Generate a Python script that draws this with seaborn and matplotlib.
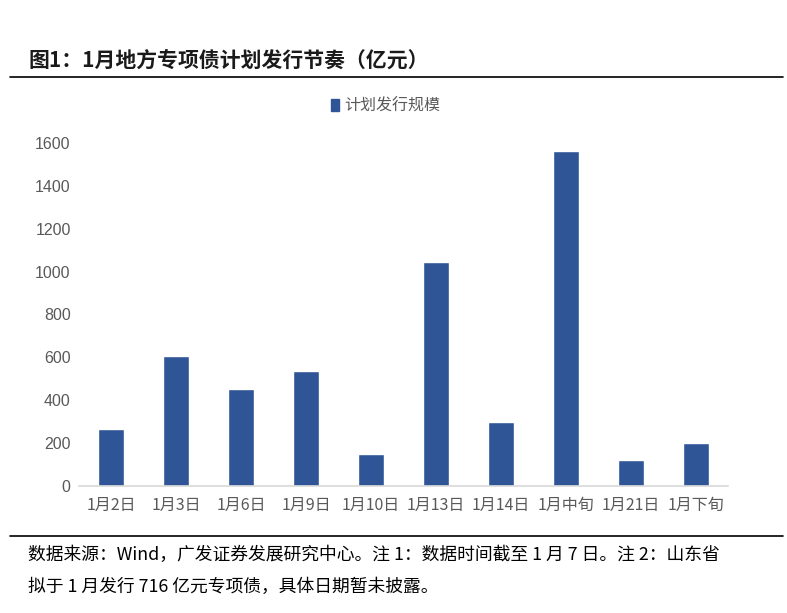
import matplotlib
matplotlib.use("Agg")
import matplotlib.pyplot as plt
import seaborn as sns
import pandas as pd
from matplotlib.lines import Line2D
from matplotlib.patches import Patch

# data
dates = ["1月2日", "1月3日", "1月6日", "1月9日", "1月10日",
         "1月13日", "1月14日", "1月中旬", "1月21日", "1月下旬"]
plan_issue = [266, 605, 450, 537, 150, 1043, 297, 1561, 121, 200]
yticks = [0, 200, 400, 600, 800, 1000, 1200, 1400, 1600]

sns.set_style("white")
plt.rcParams['font.family'] = ['Noto Sans CJK SC', 'DejaVu Sans']

df = pd.DataFrame({"date": dates, "value": plan_issue})

fig = plt.figure(figsize=(7.87, 6.13), dpi=100)
ax = fig.add_axes([0.1004, 0.2072, 0.8246, 0.5598])

bar_color = "#2F5597"
sns.barplot(data=df, x="date", y="value", color=bar_color, width=0.4,
            saturation=1, ax=ax)

ax.set_xlim(-0.5, len(dates) - 0.5)
ax.set_ylim(0, 1600)
ax.set_yticks(yticks)
ax.set_yticklabels([str(t) for t in yticks], fontsize=11.5, color="#595959",
                   family=["Liberation Sans", "DejaVu Sans"])
ax.set_xticks(range(len(dates)))
ax.set_xticklabels(dates, fontsize=11.5, color="#595959")
ax.tick_params(axis="both", length=0, pad=6)
ax.tick_params(axis="x", pad=8)
ax.set_xlabel("")
ax.set_ylabel("")
for s in ["top", "right", "left"]:
    ax.spines[s].set_visible(False)
ax.spines["bottom"].set_color("#D9D9D9")
ax.spines["bottom"].set_linewidth(1.2)

# legend above the plot
handle = Patch(facecolor=bar_color, edgecolor=bar_color)
fig.legend([handle], ["计划发行规模"], loc="center", bbox_to_anchor=(0.49, 0.827),
           frameon=False, fontsize=11.5, labelcolor="#595959",
           handlelength=0.5, handleheight=0.7, handletextpad=0.3)

# title and rules
fig.text(0.036, 0.902, "图1：1月地方专项债计划发行节奏（亿元）", fontsize=15,
         fontweight="bold", color="#1a1a1a", va="center", ha="left")
fig.add_artist(Line2D([0.013, 0.995], [0.874, 0.874], color="black", lw=1.2))
fig.add_artist(Line2D([0.013, 0.995], [0.126, 0.126], color="black", lw=1.2))

fig.text(0.036, 0.094, "数据来源：Wind，广发证券发展研究中心。注 1：数据时间截至 1 月 7 日。注 2：山东省",
         fontsize=12.8, color="black", va="center", ha="left")
fig.text(0.036, 0.042, "拟于 1 月发行 716 亿元专项债，具体日期暂未披露。",
         fontsize=12.8, color="black", va="center", ha="left")

fig.savefig("out.png", dpi=100)
